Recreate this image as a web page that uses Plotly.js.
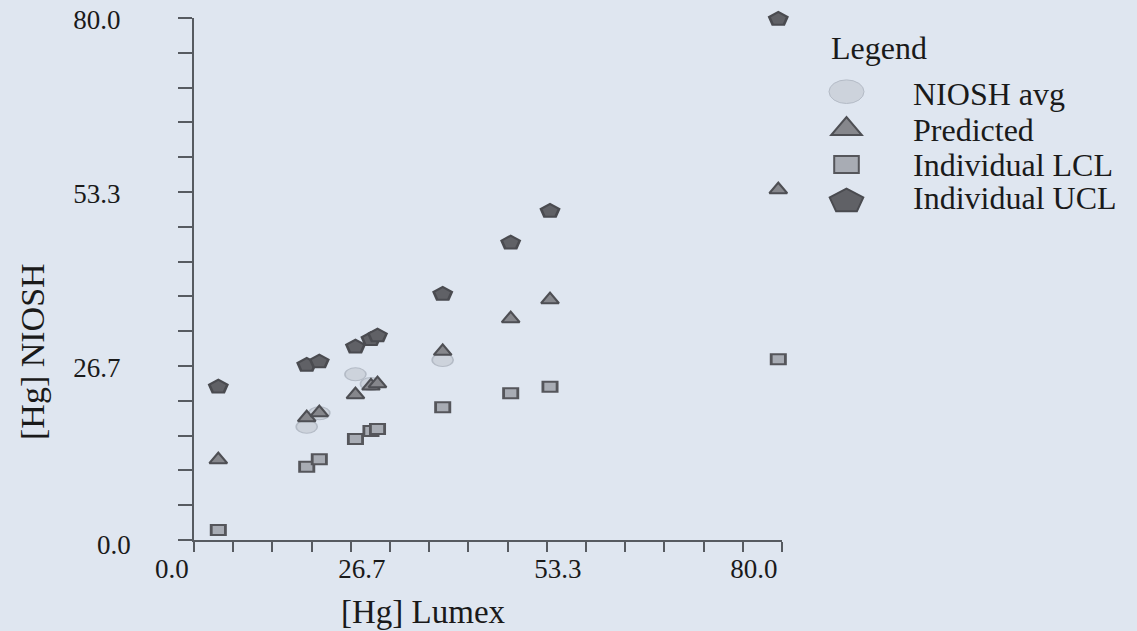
<!DOCTYPE html>
<html>
<head>
<meta charset="utf-8">
<script src="https://cdn.plot.ly/plotly-3.0.1.min.js"></script>
<style>
html,body{margin:0;padding:0;background:#dfe6f0;}
#chart{width:1137px;height:631px;}
</style>
</head>
<body>
<div id="chart"></div>
<script>
// ---- data ----
var lumex      = [8.64, 20.67, 22.38, 27.30, 29.41, 30.30, 39.17, 48.42, 53.77, 84.83];
var nioshAvg   = [null, 17.36, 19.42, 25.39, 23.91, null, 27.59, null, null, null];
var predicted  = [12.31, 18.74, 19.51, 22.27, 23.60, 23.95, 28.92, 33.92, 36.83, 53.69];
var indivLCL   = [1.53, 11.23, 12.37, 15.48, 16.70, 17.01, 20.34, 22.48, 23.49, 27.69];
var indivUCL   = [23.49, 26.82, 27.33, 29.62, 30.76, 31.31, 37.70, 45.56, 50.42, 79.85];

var seriesNames = ['NIOSH avg', 'Predicted', 'Individual LCL', 'Individual UCL'];
var xTickVals = [26.667, 53.333, 80];
var xTickText = ['26.7', '53.3', '80.0'];
var yTickVals = [26.667, 53.333, 80];
var yTickText = ['26.7', '53.3', '80.0'];
var zeroLabel = '0.0';
var xTitle = '[Hg] Lumex';
var yTitle = '[Hg] NIOSH';
var legendTitle = 'Legend';

// ---- styles ----
var FONT = 'Liberation Serif, Times New Roman, serif';
var TXT = '#1a1a1a';
var AX = '#575b61';
var BG = '#dfe6f0';
var styles = [
  {symbol:'circle',      size:13, fill:'#cdd3dc', line:'#b4bbc6', lw:1, sx:1.62},
  {symbol:'triangle-up', size:14, fill:'#86878c', line:'#4e4f54', lw:2, sx:1.10},
  {symbol:'square',      size:10, fill:'#a8acb4', line:'#55565b', lw:2, sx:1.42},
  {symbol:'pentagon',    size:14, fill:'#606166', line:'#4a4b50', lw:2, sx:1.36}
];
var seriesY = [nioshAvg, predicted, indivLCL, indivUCL];

var traces = seriesY.map(function(ys, i){
  var s = styles[i];
  return {
    type:'scatter', mode:'markers', name:seriesNames[i],
    x:lumex, y:ys, cliponaxis:false, showlegend:false,
    marker:{symbol:s.symbol, size:s.size, color:s.fill, line:{color:s.line, width:s.lw}}
  };
});

// plot area geometry in pixels (for legend / label placement)
var L = 194, R = 782, T = 18, B = 540;
function px(x){ return (x - L) / (R - L); }
function py(y){ return (B - y) / (B - T); }

var step = 80/15;

// custom legend (symbols as shapes, texts as annotations)
var legX = 846.5;
var legRows = [91.7, 126, 164.5, 200];
var legText = [94, 129.5, 164.7, 198];
var shapes = [
  {type:'circle', xref:'paper', yref:'paper', xsizemode:'pixel', ysizemode:'pixel',
   xanchor:px(legX), yanchor:py(legRows[0]), x0:-17.5, x1:17.5, y0:-11.8, y1:11.8,
   fillcolor:styles[0].fill, line:{color:styles[0].line, width:1}},
  {type:'path', xref:'paper', yref:'paper', xsizemode:'pixel', ysizemode:'pixel',
   xanchor:px(legX), yanchor:py(legRows[1]), path:'M-15.3,-9 L15.3,-9 L0,9 Z',
   fillcolor:styles[1].fill, line:{color:styles[1].line, width:2}},
  {type:'rect', xref:'paper', yref:'paper', xsizemode:'pixel', ysizemode:'pixel',
   xanchor:px(legX), yanchor:py(legRows[2]), x0:-12.3, x1:12.3, y0:-8.5, y1:8.5,
   fillcolor:styles[2].fill, line:{color:styles[2].line, width:2}},
  {type:'path', xref:'paper', yref:'paper', xsizemode:'pixel', ysizemode:'pixel',
   xanchor:px(legX), yanchor:py(legRows[3]), path:'M0,11.3 L16.8,2.6 L10.4,-11.3 L-10.4,-11.3 L-16.8,2.6 Z',
   fillcolor:styles[3].fill, line:{color:styles[3].line, width:2}}
];

var annotations = [
  {xref:'paper', yref:'paper', x:px(829), y:py(48), xanchor:'left', yanchor:'middle',
   text:legendTitle, showarrow:false, font:{family:FONT, size:32, color:TXT}}
];
seriesNames.forEach(function(n, i){
  annotations.push({xref:'paper', yref:'paper', x:px(911), y:py(legText[i]), xanchor:'left', yanchor:'middle',
    text:n, showarrow:false, font:{family:FONT, size:32, color:TXT}});
});
// axis titles
annotations.push({xref:'paper', yref:'paper', x:px(423), y:py(612), xanchor:'center', yanchor:'middle',
  text:xTitle, showarrow:false, font:{family:FONT, size:33, color:TXT}});
annotations.push({xref:'paper', yref:'paper', x:px(32), y:py(352), xanchor:'center', yanchor:'middle',
  text:yTitle, textangle:-90, showarrow:false, font:{family:FONT, size:34, color:TXT}});
// zero labels of both axes
annotations.push({xref:'paper', yref:'paper', x:px(171.5), y:py(569), xanchor:'center', yanchor:'middle',
  text:zeroLabel, showarrow:false, font:{family:FONT, size:27, color:TXT}});
annotations.push({xref:'paper', yref:'paper', x:px(133), y:py(545), xanchor:'right', yanchor:'middle',
  text:zeroLabel, showarrow:false, font:{family:FONT, size:27, color:TXT}});

var layout = {
  width:1137, height:631,
  margin:{l:L, r:1137-R, t:T, b:631-B, pad:0},
  paper_bgcolor:BG, plot_bgcolor:BG,
  showlegend:false,
  font:{family:FONT, color:TXT},
  xaxis:{
    range:[step - 0.0005, step*16 + 0.0005], showgrid:false, zeroline:false,
    showline:true, linecolor:AX, linewidth:2,
    ticks:'outside', ticklen:10, tickwidth:2, tickcolor:AX,
    tickmode:'array', tickvals:xTickVals, ticktext:xTickText,
    tickfont:{family:FONT, size:27, color:TXT},
    ticklabelshift:11, ticklabelstandoff:-6,
    minor:{tick0:0, dtick:step, ticks:'outside', ticklen:10, tickwidth:2, tickcolor:AX, showgrid:false}
  },
  yaxis:{
    range:[-0.0005, 80.0005], showgrid:false, zeroline:false,
    showline:true, linecolor:AX, linewidth:2,
    ticks:'outside', ticklen:14, tickwidth:2, tickcolor:AX,
    tickmode:'array', tickvals:yTickVals, ticktext:yTickText,
    tickfont:{family:FONT, size:27, color:TXT},
    ticklabelshift:2, ticklabelstandoff:52,
    minor:{tick0:0, dtick:step, ticks:'outside', ticklen:14, tickwidth:2, tickcolor:AX, showgrid:false}
  },
  shapes:shapes,
  annotations:annotations
};

var gd = document.getElementById('chart');
Plotly.newPlot(gd, traces, layout, {displayModeBar:false, staticPlot:true}).then(function(){
  // widen markers horizontally, as in the reference
  var groups = gd.querySelectorAll('.scatterlayer .trace');
  groups.forEach(function(g, i){
    var sx = styles[i] ? styles[i].sx : 1;
    g.querySelectorAll('path.point').forEach(function(p){
      var t = p.getAttribute('transform') || '';
      p.setAttribute('transform', t + ' scale(' + sx + ',1)');
    });
  });
});
</script>
</body>
</html>
